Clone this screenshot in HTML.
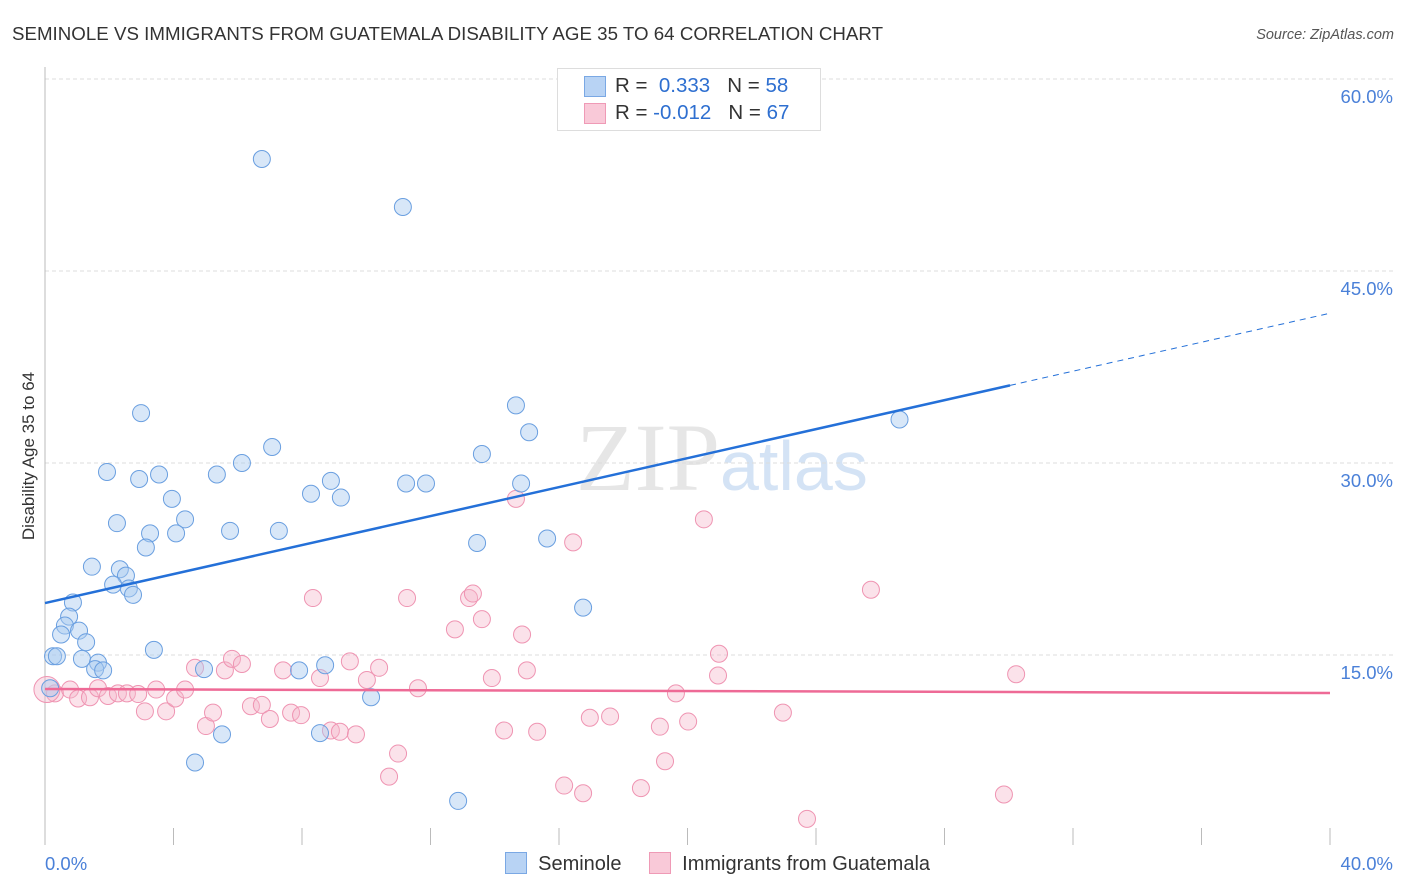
<!DOCTYPE html>
<html><head><meta charset="utf-8"><style>
body{margin:0;background:#fff;font-family:"Liberation Sans",sans-serif;}
#wrap{position:relative;width:1406px;height:892px;overflow:hidden;}
</style></head><body>
<div id="wrap">
<svg id="svg" width="1406" height="892" xmlns="http://www.w3.org/2000/svg">
<text x="12" y="40" font-size="18.7" fill="#333" textLength="871">SEMINOLE VS IMMIGRANTS FROM GUATEMALA DISABILITY AGE 35 TO 64 CORRELATION CHART</text>
<text x="1394" y="39" font-size="14.5" fill="#555" font-style="italic" text-anchor="end">Source: ZipAtlas.com</text>
<text x="720" y="490" font-size="96" fill="#e6e6e6" text-anchor="end" font-family="Liberation Serif,serif">ZIP</text>
<text x="720" y="490" font-size="70" fill="#d4e3f5">atlas</text>
<text transform="translate(34,456) rotate(-90)" font-size="17" fill="#333" text-anchor="middle">Disability Age 35 to 64</text>
<g id="grid"></g><g id="marks"></g>
</svg>
</div>
<script>
const yTicks=[15,30,45,60];
const yTickLabels=["15.0%","30.0%","45.0%","60.0%"];
const xTickLabels=["0.0%","40.0%"];
const blueX=[6.75,11.14,2.99,14.66,15.07,7.07,26.6,13.6,1.93,3.55,2.93,5.35,6.13,8.9,8.28,9.21,11.24,11.86,14.82,3.95,4.36,2.24,5.76,7.28,4.08,3.27,3.14,13.45,15.63,1.46,2.33,2.52,2.12,2.61,2.74,0.87,0.75,0.62,0.5,1.06,1.28,16.75,0.25,0.37,3.39,1.15,1.65,1.56,1.81,4.95,7.91,8.72,10.15,5.51,8.56,4.67,12.86,0.16];
const blueY=[53.75,50.0,33.9,34.5,32.4,31.25,33.4,30.7,29.3,29.1,28.75,29.1,30.0,28.6,27.6,27.3,28.4,28.4,28.4,27.2,25.6,25.3,24.7,24.7,24.5,24.5,23.4,23.75,24.1,21.9,21.7,21.2,20.5,20.2,19.7,19.1,18.0,17.3,16.6,16.9,16.0,18.7,14.9,14.9,15.4,14.7,14.4,13.9,13.8,13.9,13.8,14.2,11.7,8.8,8.9,6.6,3.6,12.4];
const pinkX=[0.31,0.78,1.03,1.4,1.65,1.96,2.27,2.55,2.9,3.11,3.46,3.77,4.05,4.36,4.67,5.01,5.23,5.6,5.82,6.13,6.41,6.75,7.0,7.41,7.66,7.97,8.34,8.56,8.9,9.18,9.49,9.68,10.02,10.4,10.71,10.99,11.27,11.61,12.76,13.2,13.32,13.6,13.91,14.29,14.66,14.85,15.0,15.32,16.16,16.44,16.75,16.96,17.59,18.55,19.14,19.3,19.64,20.02,20.51,20.95,20.98,22.97,23.72,25.71,29.85,30.23,0.06];
const pinkY=[12.0,12.3,11.6,11.7,12.4,11.8,12.0,12.0,11.95,10.6,12.3,10.6,11.6,12.3,14.0,9.45,10.5,13.8,14.7,14.3,11.0,11.1,10.0,13.8,10.5,10.3,19.45,13.2,9.1,9.0,14.5,8.8,13.05,14.0,5.5,7.3,19.45,12.4,17.0,19.45,19.8,17.8,13.2,9.1,27.2,16.6,13.8,9.0,4.8,23.8,4.2,10.1,10.2,4.6,9.4,6.7,12.0,9.8,25.6,13.4,15.1,10.5,2.2,20.1,4.1,13.5,12.3];
const blueTrend=[19.06,41.7], blueSolidEnd=30.04;
const pinkTrend=[12.34,12.03];
const NS="http://www.w3.org/2000/svg";
const X=v=>45+v*32.125, Y=v=>847-v*12.8;
function mk(tag,attrs,parent,txt){const e=document.createElementNS(NS,tag);for(const k in attrs)e.setAttribute(k,attrs[k]);if(txt!=null)e.textContent=txt;parent.appendChild(e);return e;}
const g=document.getElementById('grid'), m=document.getElementById('marks');
yTicks.forEach((t,i)=>{
 const l=mk('line',{x1:45,x2:1393,y1:Y(t),y2:Y(t),stroke:'#dcdcdc','stroke-dasharray':'4,3'},g);
 
 
 const tx=mk('text',{x:1393,y:Y(t)+24,'font-size':18.5,fill:'#4a80d8','text-anchor':'end'},g,yTickLabels[i]);
 
 
});
const ax=mk('line',{x1:45,x2:45,y1:67,y2:845,stroke:'#bbb'},g);


for(let i=0;i<=10;i++){
 const t=mk('line',{x1:X(i*4),x2:X(i*4),y1:828,y2:845,stroke:'#bbb'},g);
 
 
}
const x0=mk('text',{x:45,y:870,'font-size':18.5,fill:'#4a80d8'},g,xTickLabels[0]);


const x1=mk('text',{x:1393,y:870,'font-size':18.5,fill:'#4a80d8','text-anchor':'end'},g,xTickLabels[1]);


pinkX.forEach((v,i)=>{
 const c=mk('circle',{cx:X(v),cy:Y(pinkY[i]),r:i==pinkX.length-1?13:8.5,fill:'rgba(246,182,203,0.4)',stroke:'#ef94b2','stroke-width':1},m);
 
 
});
blueX.forEach((v,i)=>{
 const c=mk('circle',{cx:X(v),cy:Y(blueY[i]),r:8.5,fill:'rgba(168,202,240,0.45)',stroke:'#6a9fe0','stroke-width':1},m);
 
 
});
const by=x=>blueTrend[0]+(blueTrend[1]-blueTrend[0])*x/40;
const bl=mk('line',{x1:X(0),y1:Y(by(0)),x2:X(blueSolidEnd),y2:Y(by(blueSolidEnd)),stroke:'#2470d8','stroke-width':2.5},m);


const bd=mk('line',{x1:X(blueSolidEnd),y1:Y(by(blueSolidEnd)),x2:X(40),y2:Y(by(40)),stroke:'#2470d8','stroke-width':1,'stroke-dasharray':'6,5'},m);


const pl=mk('line',{x1:X(0),y1:Y(pinkTrend[0]),x2:X(40),y2:Y(pinkTrend[1]),stroke:'#ee6a96','stroke-width':2.5},m);


</script>
<div style="position:absolute;left:557px;top:68px;width:262px;height:61px;border:1px solid #ddd;background:#fff;font-size:20.5px;color:#333;">
 <div style="position:absolute;left:26px;top:7px;width:20px;height:19px;background:#b8d3f4;border:1px solid #7aa8e4"></div>
 <div style="position:absolute;left:57px;top:5px;white-space:nowrap">R = &nbsp;<span style="color:#2e6fd0">0.333</span>&nbsp;&nbsp;&nbsp;N = <span style="color:#2e6fd0">58</span></div>
 <div style="position:absolute;left:26px;top:34px;width:20px;height:19px;background:#f9c9d8;border:1px solid #ef9ab6"></div>
 <div style="position:absolute;left:57px;top:32px;white-space:nowrap">R = <span style="color:#2e6fd0">-0.012</span>&nbsp;&nbsp;&nbsp;N = <span style="color:#2e6fd0">67</span></div>
</div>
<div style="position:absolute;left:505px;top:852px;font-size:20px;color:#333;white-space:nowrap;">
 <span><span style="display:inline-block;width:20px;height:20px;background:#b8d3f4;border:1px solid #7aa8e4;vertical-align:-4px"></span>&nbsp; Seminole</span>
 <span style="margin-left:22px"><span style="display:inline-block;width:20px;height:20px;background:#f9c9d8;border:1px solid #ef9ab6;vertical-align:-4px"></span>&nbsp; Immigrants from Guatemala</span>
</div>
</body></html>
